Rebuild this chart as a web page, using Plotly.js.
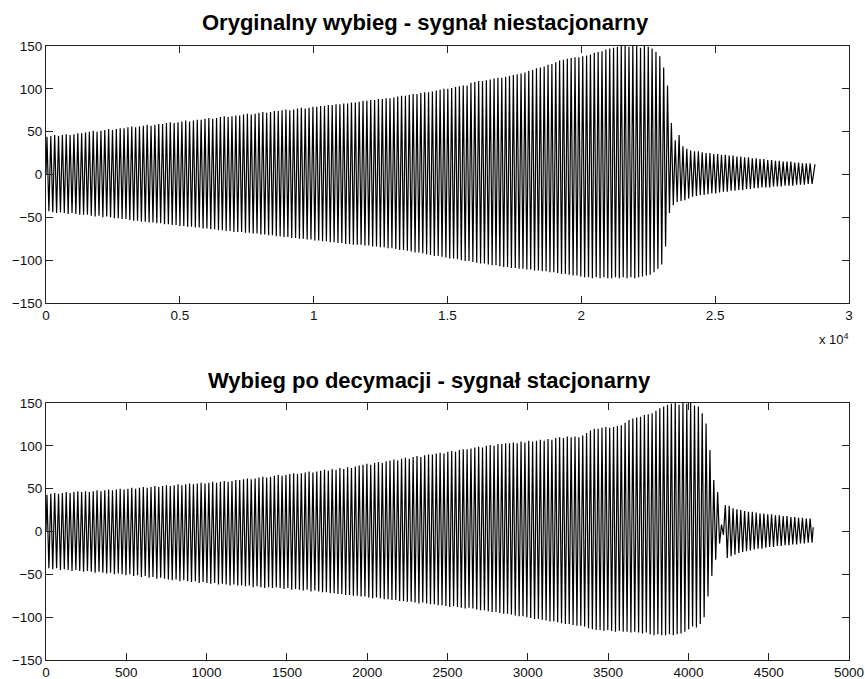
<!DOCTYPE html>
<html>
<head>
<meta charset="utf-8">
<script src="https://cdn.plot.ly/plotly-3.0.1.min.js"></script>
<style>html,body{margin:0;padding:0;background:#fff;}#chart{width:865px;height:679px;}</style>
</head>
<body>
<div id="chart"></div>
<script>
// ---- data ----
const titleTop = "Oryginalny wybieg - sygnał niestacjonarny";
const titleBottom = "Wybieg po decymacji - sygnał stacjonarny";

// original signal: samples per oscillation cycle and last sample index
const origCycleLen = 144;
const origLastSample = 28730;
const origLastValue = 12;
// peak (max) value of each cycle, original signal
const origMax = [
  44,45,46,45,46,47,46,47,48,48,
  49,50,51,50,51,52,53,52,53,54,
  54,55,56,55,56,57,58,57,58,59,
  59,60,61,60,61,62,63,62,63,64,
  64,65,66,65,66,67,68,67,68,69,
  69,70,71,70,71,72,73,72,73,74,
  74,75,76,75,76,77,78,77,78,79,
  79,80,80,81,81,82,82,83,83,84,
  84,85,86,86,87,87,88,88,89,89,
  90,91,92,92,93,94,94,95,96,96,
  97,98,99,100,100,101,102,103,104,104,
  107,108,109,109,110,111,112,113,113,114,
  115,116,117,118,119,121,122,124,125,126,
  128,129,131,133,134,135,136,137,137,138,
  139,140,142,143,144,146,147,148,149,150,
  150,149,150,150,148,150,149,147,143,138,
  125,104,60,40,46,33,30,28,27,27,
  26,25,25,24,24,23,23,22,22,21,
  21,20,20,19,19,18,18,17,17,16,
  16,15,15,15,14,14,13,13,13
];
// trough (min) value of each cycle, original signal
const origMin = [
  -43,-44,-45,-44,-45,-46,-45,-46,-47,-47,
  -47,-48,-49,-48,-50,-49,-50,-51,-51,-52,
  -52,-53,-54,-54,-55,-55,-56,-56,-57,-57,
  -58,-58,-59,-59,-60,-60,-61,-61,-62,-62,
  -63,-63,-64,-64,-65,-65,-66,-66,-67,-67,
  -67,-68,-68,-69,-69,-70,-70,-71,-71,-72,
  -72,-73,-73,-74,-74,-75,-75,-76,-76,-77,
  -77,-78,-78,-79,-79,-80,-80,-81,-81,-82,
  -82,-82,-83,-83,-84,-84,-85,-85,-86,-86,
  -87,-88,-88,-89,-90,-91,-91,-92,-93,-94,
  -95,-95,-96,-97,-98,-98,-99,-100,-101,-101,
  -102,-103,-104,-104,-105,-106,-106,-107,-108,-108,
  -109,-109,-110,-110,-111,-111,-112,-112,-113,-113,
  -114,-114,-115,-116,-116,-117,-118,-118,-119,-120,
  -120,-121,-120,-121,-120,-121,-121,-120,-121,-120,
  -121,-120,-121,-120,-119,-118,-117,-114,-110,-105,
  -84,-45,-36,-32,-31,-30,-28,-26,-25,-24,
  -24,-23,-22,-22,-21,-20,-20,-19,-19,-18,
  -18,-17,-17,-16,-16,-15,-15,-15,-14,-14,
  -14,-13,-13,-13,-12,-12,-12,-11,-11
];

// decimated signal
const decCycleLen = 24;
const decLastSample = 4777;
const decLastValue = 5;
const decMax = [
  43,44,45,44,45,46,45,46,47,46,
  47,46,47,48,47,48,49,48,49,50,
  49,50,51,50,51,52,51,52,53,52,
  53,54,53,54,55,54,55,56,55,56,
  57,56,57,58,57,58,59,58,59,60,
  60,61,62,61,62,63,64,63,64,65,
  66,65,66,67,68,67,68,69,70,69,
  70,71,72,71,73,72,74,73,75,74,
  76,77,78,79,78,80,81,80,82,83,
  84,83,85,86,85,87,88,87,89,90,
  90,91,92,91,93,94,93,95,96,96,
  97,98,99,98,100,101,100,102,102,103,
  103,104,103,105,104,106,105,106,107,106,
  108,107,109,110,109,111,110,111,110,112,
  115,118,120,120,121,122,121,122,123,124,
  127,130,132,133,134,136,137,138,141,144,
  146,148,149,150,148,150,149,150,147,146,
  138,126,95,60,46,8,31,30,27,26,
  25,24,23,23,22,21,21,20,20,19,
  19,18,18,17,17,16,16,15,15
];
const decMin = [
  -43,-44,-43,-45,-44,-45,-46,-45,-46,-47,
  -46,-47,-48,-47,-48,-49,-48,-50,-49,-50,
  -51,-50,-52,-51,-53,-52,-54,-53,-55,-54,
  -55,-56,-57,-56,-58,-57,-58,-59,-58,-60,
  -59,-60,-61,-60,-62,-61,-62,-63,-62,-63,
  -63,-64,-63,-65,-64,-65,-66,-65,-66,-65,
  -66,-67,-66,-68,-67,-68,-69,-68,-70,-69,
  -70,-71,-71,-72,-72,-73,-73,-74,-74,-75,
  -75,-76,-76,-77,-78,-77,-78,-79,-79,-80,
  -80,-81,-81,-82,-82,-83,-84,-83,-84,-85,
  -85,-86,-86,-87,-88,-87,-88,-89,-90,-89,
  -90,-91,-92,-92,-93,-94,-94,-95,-96,-96,
  -97,-98,-99,-99,-100,-101,-102,-102,-103,-104,
  -105,-105,-106,-107,-108,-108,-109,-110,-110,-111,
  -113,-114,-115,-115,-116,-115,-116,-117,-116,-117,
  -117,-118,-117,-118,-119,-118,-120,-121,-120,-121,
  -121,-120,-121,-120,-119,-117,-114,-111,-112,-108,
  -100,-76,-52,-33,-14,-4,-31,-29,-27,-25,
  -24,-23,-22,-21,-20,-20,-19,-18,-18,-17,
  -17,-16,-16,-15,-15,-14,-14,-13,-13
];

const yTicks = [-150,-100,-50,0,50,100,150];
const topXTickVals = [0,5000,10000,15000,20000,25000,30000];
const topXTickText = ['0','0.5','1','1.5','2','2.5','3'];
const bottomXTickVals = [0,500,1000,1500,2000,2500,3000,3500,4000,4500,5000];

// ---- build the zig-zag paths from the cycle extrema ----
function buildPath(maxArr, minArr, cycleLen, lastX, lastY) {
  const xs = [0], ys = [0];
  for (let i = 0; i < maxArr.length; i++) {
    xs.push(i * cycleLen + cycleLen * 0.25); ys.push(maxArr[i]);
    xs.push(i * cycleLen + cycleLen * 0.75); ys.push(minArr[i]);
  }
  xs.push(lastX); ys.push(lastY);
  return {xs, ys};
}
const pTop = buildPath(origMax, origMin, origCycleLen, origLastSample, origLastValue);
const pBot = buildPath(decMax, decMin, decCycleLen, decLastSample, decLastValue);

const lineStyle = {color: '#000', width: 1.2};
const traces = [
  {type: 'scatter', mode: 'lines', x: pTop.xs, y: pTop.ys, xaxis: 'x', yaxis: 'y', line: lineStyle, hoverinfo: 'skip'},
  {type: 'scatter', mode: 'lines', x: pBot.xs, y: pBot.ys, xaxis: 'x2', yaxis: 'y2', line: lineStyle, hoverinfo: 'skip'}
];

const W = 865, H = 679;
const M = {l: 46, r: 16, t: 46, b: 19};
const plotH = H - M.t - M.b;
function py(pixY) { return (H - M.b - pixY) / plotH; }   // pixel row -> paper y
const plotW = W - M.l - M.r;
function px(pixX) { return (pixX - M.l) / plotW; }

const tickFont = {family: 'Liberation Sans, Arial, sans-serif', size: 13.5, color: '#111'};
const axisCommon = {
  showgrid: false, zeroline: false, showline: true, linecolor: '#222', linewidth: 1,
  mirror: 'ticks', ticks: 'inside', ticklen: 7, tickcolor: '#222', tickwidth: 1,
  tickfont: tickFont
};

const titleFont = {family: 'Liberation Sans, Arial, sans-serif', size: 22, weight: 'bold', color: '#000'};

const layout = {
  width: W, height: H, margin: M, showlegend: false,
  paper_bgcolor: '#fff', plot_bgcolor: '#fff',
  xaxis: Object.assign({}, axisCommon, {domain: [0, 1], range: [0, 30000], tickmode: 'array', tickvals: topXTickVals, ticktext: topXTickText, anchor: 'y'}),
  yaxis: Object.assign({}, axisCommon, {domain: [py(303), 1], range: [-150, 150], tickmode: 'array', tickvals: yTicks, anchor: 'x'}),
  xaxis2: Object.assign({}, axisCommon, {domain: [0, 1], range: [0, 5000], tickmode: 'array', tickvals: bottomXTickVals, anchor: 'y2'}),
  yaxis2: Object.assign({}, axisCommon, {domain: [0, py(403)], range: [-150, 150], tickmode: 'array', tickvals: yTicks, anchor: 'x2'}),
  annotations: [
    {text: titleTop, xref: 'paper', yref: 'paper', x: px(425), y: py(23), xanchor: 'center', yanchor: 'middle', showarrow: false, font: titleFont},
    {text: titleBottom, xref: 'paper', yref: 'paper', x: px(429), y: py(380), xanchor: 'center', yanchor: 'middle', showarrow: false, font: titleFont},
    {text: 'x 10<sup>4</sup>', xref: 'paper', yref: 'paper', x: px(851), y: py(339), xanchor: 'right', yanchor: 'middle', showarrow: false,
     font: {family: 'Liberation Sans, Arial, sans-serif', size: 13, color: '#111'}}
  ]
};

Plotly.newPlot('chart', traces, layout, {displayModeBar: false, staticPlot: true});
</script>
</body>
</html>
